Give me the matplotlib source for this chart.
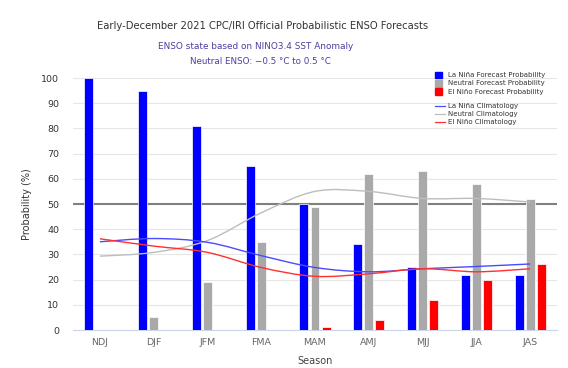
import numpy as np
import matplotlib
matplotlib.use("Agg")
import matplotlib.pyplot as plt
from matplotlib.path import Path
from matplotlib.patches import PathPatch, Rectangle
from matplotlib.lines import Line2D

seasons = ["NDJ", "DJF", "JFM", "FMA", "MAM", "AMJ", "MJJ", "JJA", "JAS"]
lanina_prob = [100, 95, 81, 65, 50, 34, 25, 22, 22]
neutral_prob = [0, 5, 19, 35, 49, 62, 63, 58, 52]
elnino_prob = [0, 0, 0, 0, 1, 4, 12, 20, 26]
lanina_clim = [35, 36.3, 34.8, 29.5, 24.8, 23.1, 24.3, 25.2, 26.2]
neutral_clim = [29.3, 30.8, 35.5, 46.5, 55.0, 55.0, 52.2, 52.2, 50.8]
elnino_clim = [36.2, 33.3, 30.8, 24.8, 21.3, 22.3, 24.3, 23.1, 24.3]
yticks = list(range(0, 101, 10))

fig = plt.figure(figsize=(5.68, 3.68), dpi=100)
L, R, B, T = 73/568, 557/568, (368-330)/368, (368-78)/368
ax = fig.add_axes([L, B, R-L, T-B])
x = np.arange(len(seasons))
w = 0.167
off = 0.205
ax.bar(x-off, lanina_prob, w, color="#0000ff", edgecolor="white", linewidth=0.5, zorder=3)
ax.bar(x, neutral_prob, w, color="#a9a9a9", edgecolor="white", linewidth=0.5, zorder=3)
ax.bar(x+off, elnino_prob, w, color="#ff0000", edgecolor="white", linewidth=0.5, zorder=3)

def spline(ax, xs, ys, color, lw):
    xs = np.asarray(xs, float); ys = np.asarray(ys, float)
    P = np.column_stack([xs, ys])
    n = len(P)
    verts = [P[0]]; codes = [Path.MOVETO]
    for i in range(n-1):
        p0 = P[i-1] if i > 0 else P[i]
        p3 = P[i+2] if i+2 < n else P[i+1]
        c1 = P[i] + (P[i+1]-p0)/6
        c2 = P[i+1] - (p3-P[i])/6
        verts += [c1, c2, P[i+1]]
        codes += [Path.CURVE4]*3
    ax.add_patch(PathPatch(Path(verts, codes), facecolor="none", edgecolor=color, lw=lw, zorder=4))

spline(ax, x, neutral_clim, "#bdbdbd", 1.0)
spline(ax, x, lanina_clim, "#4a4aff", 1.0)
spline(ax, x, elnino_clim, "#ff3030", 1.0)

ax.set_xlim(-0.5, len(seasons)-0.5)
ax.set_ylim(0, 100)
ax.set_yticks(yticks)
ax.set_xticks(x)
ax.set_xticklabels(seasons)
ax.grid(axis="y", color="#e6e6e6", lw=0.8, zorder=0)
ax.axhline(50, color="#808080", lw=1.5, zorder=2)
ax.tick_params(axis="y", length=0, pad=10, labelsize=6.8, labelcolor="#333333")
ax.tick_params(axis="x", length=0, pad=6, labelsize=6.8, labelcolor="#666666")
for s in ["top", "right", "left"]:
    ax.spines[s].set_visible(False)
ax.spines["bottom"].set_color("#ccd6eb")
ax.spines["bottom"].set_linewidth(0.8)
ax.set_axisbelow(True)

fig.text(27/568, 1-204/368, "Probability (%)", rotation=90, ha="center", va="center", fontsize=7, color="#333333")
fig.text(315/568, 1-361/368, "Season", ha="center", va="center", fontsize=7, color="#444444")

fig.text(263/568, 1-26/368, "Early-December 2021 CPC/IRI Official Probabilistic ENSO Forecasts",
         ha="center", va="center", fontsize=7.2, color="#333333")
fig.text(256/568, 1-46.5/368, "ENSO state based on NINO3.4 SST Anomaly", ha="center", va="center", fontsize=6.4, color="#4b3f9f")
fig.text(260/568, 1-61/368, "Neutral ENSO: \u22120.5 \u00b0C to 0.5 \u00b0C", ha="center", va="center", fontsize=6.3, color="#4b3f9f")

# legend
fs = 5.0
sq = [("La Niña Forecast Probability", "#0000ff", 75), ("Neutral Forecast Probability", "#a9a9a9", 83.3), ("El Niño Forecast Probability", "#ff0000", 91.7)]
for lab, c, y in sq:
    fig.patches.append(Rectangle((435/568, 1-(y+3.3)/368), 6.6/568, 6.6/368, transform=fig.transFigure, color=c, figure=fig))
    fig.text(448/568, 1-y/368, lab, ha="left", va="center", fontsize=fs, color="#333333")
ln = [("La Niña Climatology", "#4a4aff", 105.7), ("Neutral Climatology", "#bdbdbd", 114), ("El Niño Climatology", "#ff3030", 122.3)]
for lab, c, y in ln:
    fig.lines.append(Line2D([435/568, 445/568], [1-y/368, 1-y/368], transform=fig.transFigure, color=c, lw=0.9, figure=fig))
    fig.text(448/568, 1-y/368, lab, ha="left", va="center", fontsize=fs, color="#333333")

fig.savefig("out.png", dpi=100, facecolor="white")
